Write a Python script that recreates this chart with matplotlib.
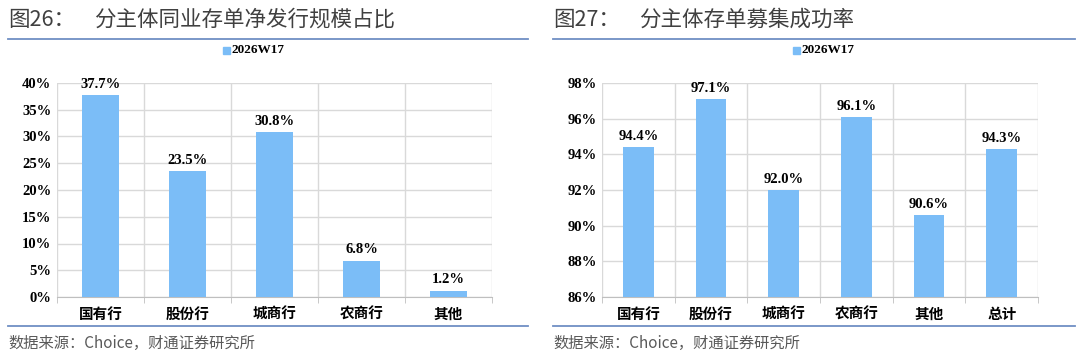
import matplotlib
matplotlib.use("Agg")
import matplotlib.pyplot as plt
from matplotlib.lines import Line2D
from matplotlib.patches import Rectangle
from matplotlib.ticker import FixedLocator, FuncFormatter

# ── data ───────────────────────────────────────────────────────────────────
cats_left = ["国有行", "股份行", "城商行", "农商行", "其他"]
vals_left = [37.7, 23.5, 30.8, 6.8, 1.2]

cats_right = ["国有行", "股份行", "城商行", "农商行", "其他", "总计"]
vals_right = [94.4, 97.1, 92.0, 96.1, 90.6, 94.3]

series_name = "2026W17"
titles = [("图26：", "分主体同业存单净发行规模占比"),
          ("图27：", "分主体存单募集成功率")]
source = "数据来源：Choice，财通证券研究所"

BAR = "#7BBDF7"
GRID = "#D9D9D9"
RULE = "#6F8FC4"
W, H = 1080, 354

serif = ["Liberation Serif", "Noto Sans CJK SC"]
sans = ["Noto Sans CJK SC", "DejaVu Sans"]

fig = plt.figure(figsize=(W / 100, H / 100), dpi=100)


def px(x, y):
    return x / W, 1 - y / H


def panel(x0, x1, ax_l, ax_r, cats, vals, ylim, yticks, fig_title, leg_x):
    # title + rules
    fig.text(*px(x0, 20), fig_title[0], fontsize=15.5, color="#404040",
             family=sans, va="center", ha="left")
    fig.text(*px(x0 + 86, 20), fig_title[1], fontsize=15.5, color="#404040",
             family=sans, va="center", ha="left")
    for yy in (38.5, 325.5):
        fig.add_artist(Line2D([x0 / W, x1 / W], [1 - yy / H] * 2,
                              color=RULE, linewidth=1.3))
    fig.text(*px(x0, 343), source, fontsize=11, color="#595959",
             family=sans, va="center", ha="left")

    # legend
    lx, ly = px(leg_x, 50)
    fig.add_artist(Rectangle((lx, ly - 3.5 / H), 7 / W, 7 / H,
                             color=BAR, transform=fig.transFigure))
    fig.text(lx + 8 / W, ly, series_name, fontsize=9.5, fontweight="bold",
             family=serif, va="center", ha="left")

    l, b = px(ax_l, 297)
    _, t = px(ax_l, 83)
    ax = fig.add_axes([l, b, (ax_r - ax_l) / W, t - b])
    n = len(cats)
    x = range(n)
    ax.bar(x, vals, width=0.42, color=BAR, zorder=3)
    ax.set_xlim(-0.5, n - 0.5)
    ax.set_ylim(*ylim)
    ax.yaxis.set_major_locator(FixedLocator(yticks))
    ax.yaxis.set_major_formatter(FuncFormatter(lambda v, p: f"{v:.0f}%"))
    ax.set_xticks(list(x))
    ax.set_xticklabels(cats)
    ax.set_xticks([i - 0.5 for i in range(n + 1)], minor=True)
    ax.grid(True, axis="y", color=GRID, linewidth=1, zorder=0)
    ax.grid(True, axis="x", which="minor", color=GRID, linewidth=1, zorder=0)
    ax.tick_params(axis="x", which="major", length=0, pad=8)
    ax.tick_params(axis="x", which="minor", length=4, color="#BFBFBF")
    ax.tick_params(axis="y", length=0, pad=4)
    for s in ("top", "right", "left"):
        ax.spines[s].set_visible(False)
    ax.spines["bottom"].set_color("#BFBFBF")
    for lab in ax.get_xticklabels() + ax.get_yticklabels():
        lab.set_family(serif)
        lab.set_fontweight("bold")
        lab.set_fontsize(10.5)
    for xi, v in zip(x, vals):
        ax.annotate(f"{v:.1f}%", (xi, v), xytext=(0, 3),
                    textcoords="offset points", ha="center", va="bottom",
                    fontsize=10.5, fontweight="bold", family=serif)
    return ax


panel(8, 528, 57, 492, cats_left, vals_left, (0, 40),
      [0, 5, 10, 15, 20, 25, 30, 35, 40], titles[0], 223)
panel(553, 1075, 602, 1038, cats_right, vals_right, (86, 98),
      [86, 88, 90, 92, 94, 96, 98], titles[1], 793)

fig.savefig("out.png", dpi=100)
